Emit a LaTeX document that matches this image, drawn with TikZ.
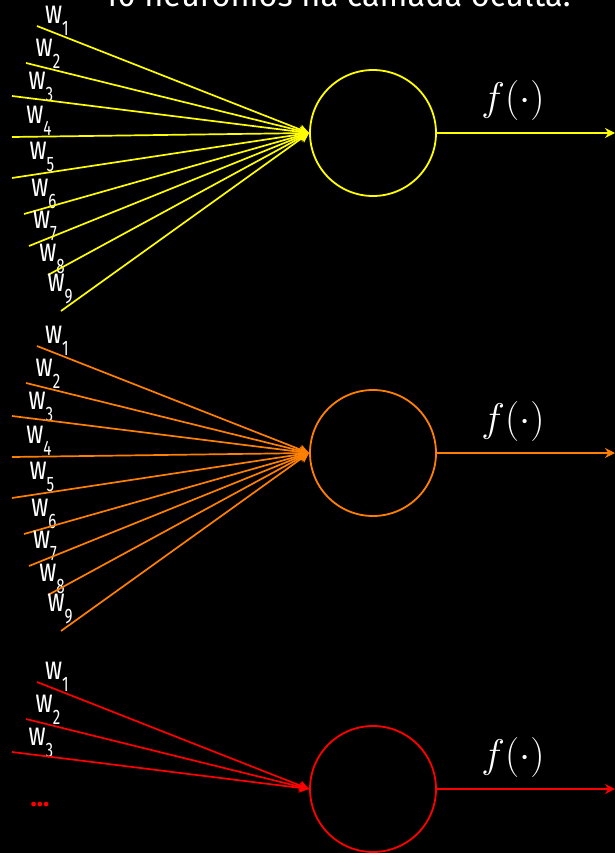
\RequirePackage{fix-cm}
\documentclass[tikz,border=0pt]{standalone}
\usepackage{fontspec}
\setmainfont{Fira Sans}
\newfontfamily\narrowsans[FakeStretch=0.72]{Fira Sans}
\usetikzlibrary{arrows.meta}
\definecolor{Gold}{HTML}{FFFF00}
\definecolor{Amber}{HTML}{FF8000}
\definecolor{Scarlet}{HTML}{FF0000}
\newcommand{\wsub}[1]{w\raisebox{-12pt}{\fontsize{21}{21}\selectfont #1}}

\begin{document}
\begin{tikzpicture}[x=1pt,y=-1pt,>={Stealth[length=10pt,width=10pt]},
    neuron/.style={circle,line width=1.8pt,minimum size=126pt,inner sep=0pt},
    wire/.style={->,line width=1.7pt},
    weight/.style={text=white,inner sep=0pt,font=\narrowsans\fontsize{33}{33}\selectfont},
    func/.style={text=white,inner sep=0pt,font=\fontsize{40}{40}\selectfont}]
  \fill[black] (0,0) rectangle (615,853);
  \useasboundingbox (0,0) rectangle (615,853);

  \node[anchor=base,text=white,font=\fontsize{32.5}{38}\selectfont] (title) at (337,7) {10 neurônios na camada oculta.};

  \foreach \n/\yc/\col/\last in {a/133/Gold/9,b/453/Amber/9,c/789/Scarlet/3} {
    \node[neuron,draw=\col] (n\n) at (373,\yc) {};
    \foreach \i/\sx/\sy/\lx/\ly in {1/37/-107/57/-112,2/26/-70/48/-79,3/12/-37/41/-46,
        4/12/4/39/-12,5/12/45/42/24,6/24/81/44/61,7/29/113/45/93,8/48/142/52/126,9/61/178/60/156} {
      \ifnum\i>\last\else
        \coordinate (s\n\i) at (\sx,\yc+\sy);
        \node[weight] (w\n\i) at (\lx,\yc+\ly) {\wsub{\i}};
        \draw[wire,\col] (s\n\i) -- (n\n.west);
      \fi
    }
    \coordinate (o\n) at (615,\yc);
    \draw[wire,\col] (n\n.east) -- (o\n);
    \node[func] (f\n) at (513,\yc-32) {$f(\cdot)$};
  }
  \node[anchor=base,text=Scarlet,font=\bfseries\fontsize{26}{26}\selectfont] (dots) at (40,806) {...};
\end{tikzpicture}
\end{document}
